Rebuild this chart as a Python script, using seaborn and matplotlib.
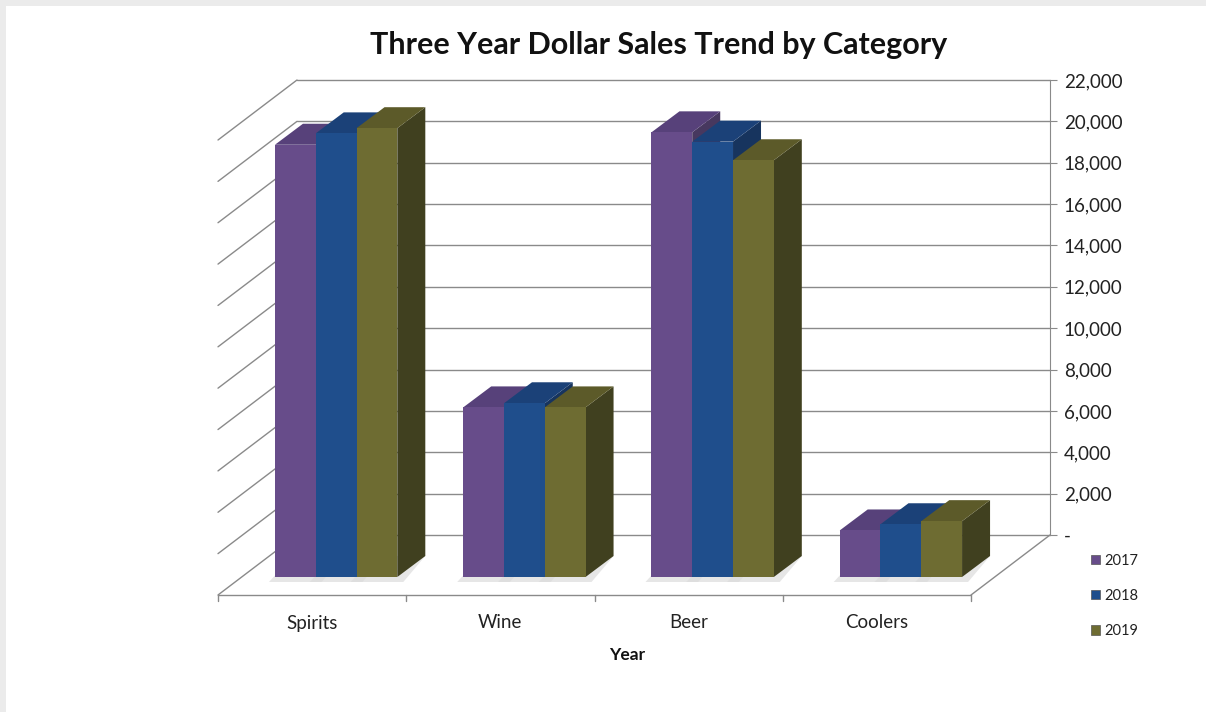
import numpy as np
import pandas as pd
import matplotlib
matplotlib.use("Agg")
import matplotlib.pyplot as plt
import matplotlib.transforms as mtransforms
from matplotlib.patches import Polygon, Patch, Rectangle
from matplotlib.ticker import FuncFormatter, FixedLocator
import seaborn as sns

# ---- data -------------------------------------------------------------
categories = ["Spirits", "Wine", "Beer", "Coolers"]
years = ["2017", "2018", "2019"]
sales_2017 = [20900, 8200, 21500, 2250]
sales_2018 = [21450, 8400, 21050, 2550]
sales_2019 = [21700, 8200, 20150, 2700]
y_ticks = list(range(0, 22001, 2000))

front_colors = ["#674C8A", "#1F4E8C", "#6E6C32"]
top_colors = ["#57417A", "#1B4178", "#5C5A29"]
side_colors = ["#47385F", "#17345E", "#40401F"]

df = pd.DataFrame({
    "category": categories * 3,
    "year": [y for y in years for _ in categories],
    "sales": sales_2017 + sales_2018 + sales_2019,
})

# ---- figure / back wall ------------------------------------------------
W, H, DPI = 1206, 712, 100
sns.set_style("white")
plt.rcParams["font.family"] = ["Lato", "DejaVu Sans"]

fig = plt.figure(figsize=(W / DPI, H / DPI), dpi=DPI)
fig.patch.set_facecolor("white")
fig.add_artist(Rectangle((0, 1 - 6 / H), 1, 6 / H, transform=fig.transFigure,
                         facecolor="#ebebeb", edgecolor="none", zorder=0))
fig.add_artist(Rectangle((0, 0), 6 / W, 1, transform=fig.transFigure,
                         facecolor="#ebebeb", edgecolor="none", zorder=0))

WALL_L, WALL_R, WALL_T, WALL_B = 297, 1050, 80, 535
ax = fig.add_axes([WALL_L / W, (H - WALL_B) / H,
                   (WALL_R - WALL_L) / W, (WALL_B - WALL_T) / H])

sns.barplot(data=df, x="category", y="sales", hue="year",
            order=categories, hue_order=years, palette=front_colors,
            width=0.65, saturation=1, edgecolor="none", linewidth=0,
            legend=False, ax=ax)

ax.set_xlim(-0.5, len(categories) - 0.5)
ax.set_ylim(0, 22000)
ax.set_xlabel("")
ax.set_ylabel("")
ax.set_xticks([])

# data units per pixel
ux = (len(categories)) / (WALL_R - WALL_L)
uy = 22000 / (WALL_B - WALL_T)

GRID = "#8a8a8a"
# oblique offsets (pixels, y up)
FLOOR_DX, FLOOR_DY = -79, -60       # back wall -> front edge of floor
FRONT_DX, FRONT_DY = -55, -42       # back wall -> front face of columns
DEPTH_DX, DEPTH_DY = 28, 21         # column depth


def shifted(dx, dy):
    return ax.transData + mtransforms.ScaledTranslation(dx / DPI, dy / DPI,
                                                        fig.dpi_scale_trans)


# back wall gridlines and right value axis
ax.yaxis.set_major_locator(FixedLocator(y_ticks))
ax.yaxis.grid(True, color=GRID, lw=1)
ax.set_axisbelow(True)
for line in ax.get_ygridlines():
    line.set_clip_on(False)
for s in ["left", "top", "bottom"]:
    ax.spines[s].set_visible(False)
ax.spines["right"].set_color(GRID)
ax.yaxis.tick_right()
ax.tick_params(axis="y", direction="out", length=5, color=GRID, pad=5,
               labelsize=13.5, labelcolor="#222222")
ax.yaxis.set_major_formatter(FuncFormatter(lambda v, p: "-" if v == 0 else f"{v:,.0f}"))

# side wall and floor
fx, fy = FLOOR_DX * ux, FLOOR_DY * uy
x_left, x_right = -0.5, len(categories) - 0.5
for v in y_ticks:
    ax.plot([x_left, x_left + fx], [v, v + fy], color=GRID, lw=1,
            clip_on=False, zorder=1)
ax.plot([x_left + fx, x_right + fx], [fy, fy], color=GRID, lw=1,
        clip_on=False, zorder=1)
ax.plot([x_right, x_right + fx], [0, fy], color=GRID, lw=1,
        clip_on=False, zorder=1)
for b in np.arange(len(categories) + 1) - 0.5:
    ax.plot([b + fx, b + fx], [fy, fy - 6 * uy], color=GRID, lw=1,
            clip_on=False, zorder=1)
for i, cat in enumerate(categories):
    ax.text(i + fx, fy - 28 * uy, cat, ha="center", va="center",
            fontsize=13.5, color="#222222")

# columns: front faces from seaborn, plus top, side and a soft floor shadow
front_tr = shifted(FRONT_DX, FRONT_DY)
ddx, ddy = DEPTH_DX * ux, DEPTH_DY * uy
bars = []
for hi, cont in enumerate(ax.containers):
    for bar in cont:
        bars.append((bar.get_x(), hi, bar))
bars.sort(key=lambda t: t[0])
for k, (_, hi, bar) in enumerate(bars):
    x0, w, h = bar.get_x(), bar.get_width(), bar.get_height()
    z = 3 + k * 0.01
    shadow = Polygon([(x0 - 6 * ux, -5 * uy), (x0 + w + 6 * ux, -5 * uy),
                      (x0 + w + ddx, ddy), (x0 + ddx - 10 * ux, ddy)],
                     closed=True, facecolor="#dcdcdc", edgecolor="none",
                     alpha=0.7, transform=front_tr, clip_on=False, zorder=2)
    side = Polygon([(x0 + w, 0), (x0 + w + ddx, ddy), (x0 + w + ddx, h + ddy), (x0 + w, h)],
                   closed=True, facecolor=side_colors[hi], edgecolor="none",
                   transform=front_tr, clip_on=False, zorder=z)
    top = Polygon([(x0, h), (x0 + w, h), (x0 + w + ddx, h + ddy), (x0 + ddx, h + ddy)],
                  closed=True, facecolor=top_colors[hi], edgecolor="none",
                  transform=front_tr, clip_on=False, zorder=z)
    ax.add_patch(shadow)
    ax.add_patch(side)
    ax.add_patch(top)
    bar.set_transform(front_tr)
    bar.set_clip_on(False)
    bar.set_zorder(z + 0.005)

# titles and legend
fig.text(659 / W, 1 - 45 / H, "Three Year Dollar Sales Trend by Category",
         ha="center", va="center", fontsize=22, fontweight="bold", color="#111111")
fig.text(627 / W, 1 - 655 / H, "Year", ha="center", va="center",
         fontsize=12.5, fontweight="bold", color="#111111")

handles = [Patch(facecolor=c, edgecolor="#555555", lw=0.5) for c in front_colors]
fig.legend(handles=handles, labels=years, loc="center left",
           bbox_to_anchor=(1078 / W, 1 - 596 / H), frameon=False,
           handlelength=0.6, handleheight=0.6, handletextpad=0.3,
           labelspacing=1.45, fontsize=10.5, labelcolor="#222222")

fig.savefig("out.png", dpi=DPI, facecolor=fig.get_facecolor())
